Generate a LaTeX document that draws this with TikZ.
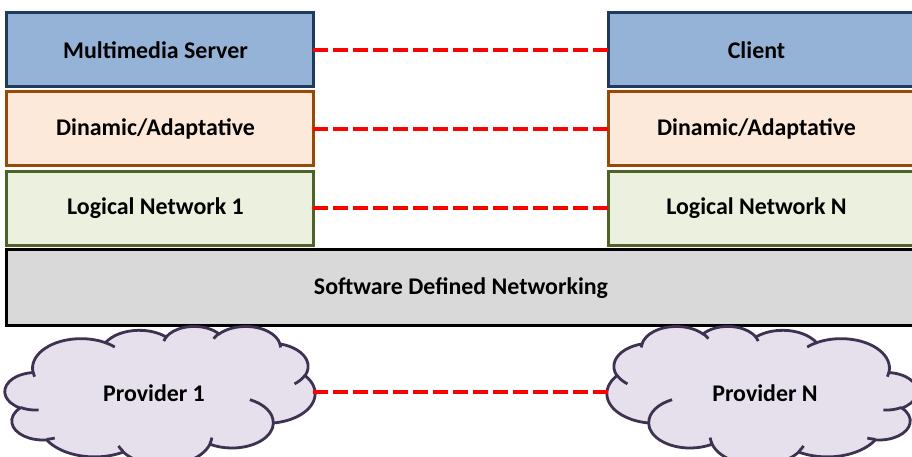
\documentclass[tikz,border=0pt]{standalone}
\usepackage{fontspec}
\setmainfont{Carlito}
\definecolor{srvfill}{HTML}{95B3D7}
\definecolor{srvline}{HTML}{1F3A5F}
\definecolor{adfill}{HTML}{FDE9D9}
\definecolor{adline}{HTML}{984807}
\definecolor{lnfill}{HTML}{EBF1DE}
\definecolor{lnline}{HTML}{4F6228}
\definecolor{sdnfill}{HTML}{D9D9D9}
\definecolor{cloudfill}{HTML}{E5E0EC}
\definecolor{cloudline}{HTML}{3F3151}
\definecolor{linkred}{HTML}{FF0000}

% elliptical arc given by radii, start angle (measured as a ray) and sweep
\newcommand\oarc[4]{%
  \pgfextra{%
    \pgfmathparse{atan2((#1)*sin(#3),(#2)*cos(#3))}\global\let\oaS\pgfmathresult
    \pgfmathparse{atan2((#1)*sin((#3)+(#4)),(#2)*cos((#3)+(#4)))}\global\let\oaE\pgfmathresult
    \pgfmathparse{mod(\oaE-\oaS+720,360)}\global\let\oaD\pgfmathresult
  }%
  arc[start angle=\oaS, delta angle=\oaD, x radius=#1, y radius=#2]%
}
% cloud outline in a 432 x 432 frame
\newcommand\cloudoutline{%
  (39,143.70)
  \oarc{67.53}{91.90}{-190.4875}{123.7805}
  \oarc{53.33}{72.67}{-144.1024}{89.9452}
  \oarc{43.65}{59.45}{-145.8079}{99.7230}
  \oarc{48.57}{65.95}{-130.9861}{117.2417}
  \oarc{53.33}{72.73}{-78.7089}{109.0269}
  \oarc{67.75}{92.20}{-46.2673}{130.2690}
  \oarc{57.85}{78.67}{0.6250}{114.0333}
  \oarc{67.52}{92.15}{22.4516}{115.1726}
  \oarc{77.20}{105.43}{66.2426}{75.7110}
  \oarc{43.60}{59.18}{-274.9421}{146.7356}
  \oarc{43.45}{59.45}{-246.8285}{152.5189}
  -- cycle}
% short inner strokes of the cloud
\newcommand\cloudinner{%
  (46.93,261.77) \oarc{43.45}{59.45}{86.7420}{26.4295}
  (69.28,348.99) \oarc{43.60}{59.18}{73.6105}{11.4475}
  (164.78,390.90) \oarc{67.52}{92.15}{137.6242}{14.0811}
  (288.27,347.51) \oarc{67.52}{92.15}{6.4533}{15.9984}
  (341.29,229.54) \oarc{57.85}{78.67}{-70.2924}{70.9174}
  (417.98,153.54) \oarc{53.33}{72.73}{30.3180}{27.7515}
  (383.24,54.26) \oarc{48.57}{65.95}{-13.7443}{14.8589}
  (290.78,39.52) \oarc{48.57}{65.95}{-149.1815}{18.1954}
  (221.41,47.20) \oarc{43.65}{59.45}{-163.4943}{17.6864}
  (140.00,51.92) \oarc{67.53}{91.90}{-66.7070}{12.3194}
  (41.27,157.89) \oarc{67.53}{91.90}{157.6544}{11.8582}}

\tikzset{
  layer/.style={draw, line width=3bp, rectangle, outer sep=0pt,
    minimum width=306bp, minimum height=74bp, inner sep=0pt,
    font=\fontsize{24}{28}\selectfont\bfseries},
  stack/.style={layer, execute at end node={\hspace{9bp}}},
  srv/.style={stack, fill=srvfill, draw=srvline},
  adapt/.style={stack, fill=adfill, draw=adline},
  lnet/.style={stack, fill=lnfill, draw=lnline},
  link/.style={draw=linkred, line width=4bp, dash pattern=on 15bp off 5bp},
  cloudshape/.style={fill=cloudfill, draw=cloudline, line width=2.8bp},
  cloudstroke/.style={draw=cloudline, line width=2.8bp},
  cloudtext/.style={font=\fontsize{24}{28}\selectfont\bfseries, inner sep=0pt}
}

\begin{document}
\begin{tikzpicture}[x=1bp, y=-1bp]
\useasboundingbox (0,0) rectangle (912,457);

% left stack
\node[srv]   (ms)  at (160,50)    {Multimedia Server};
\node[adapt] (da1) at (160,129)   {Dinamic/Adaptative};
\node[lnet]  (ln1) at (160,208.5) {Logical Network 1};

% right stack
\node[srv]   (cl)  at (761,50)    {Client};
\node[adapt] (da2) at (761,129)   {Dinamic/Adaptative};
\node[lnet]  (lnN) at (761,208.5) {Logical Network N};

% SDN layer
\node[layer, fill=sdnfill, draw=black, minimum width=908bp, minimum height=76bp]
  (sdn) at (461,288) {Software Defined Networking};

% providers
\begin{scope}[shift={(5,326)}, xscale=310/432, yscale=138.7/432]
  \path[cloudshape] \cloudoutline;
  \path[cloudstroke] \cloudinner;
\end{scope}
\begin{scope}[shift={(917,326)}, xscale=-310/432, yscale=138.7/432]
  \path[cloudshape] \cloudoutline;
  \path[cloudstroke] \cloudinner;
\end{scope}
\node[cloudtext] (p1) at (154,393) {Provider 1};
\node[cloudtext] (pN) at (765,393) {Provider N};
\coordinate (p1edge) at (313,392);
\coordinate (pNedge) at (608,392);

% peer links
\draw[link] (ms.east)  -- (cl.west);
\draw[link] (da1.east) -- (da2.west);
\draw[link] (ln1.east) -- (lnN.west);
\draw[link] (p1edge)   -- (pNedge);
\end{tikzpicture}
\end{document}
